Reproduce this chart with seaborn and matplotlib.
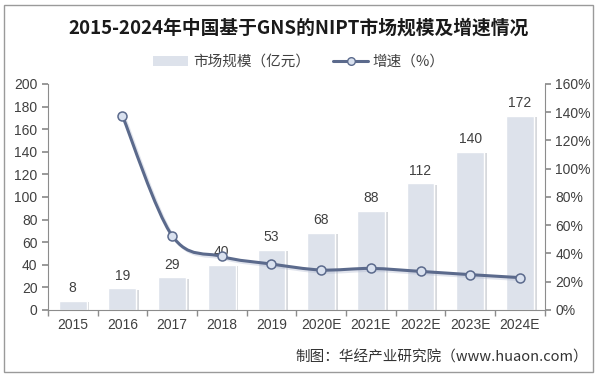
import numpy as np
import pandas as pd
import matplotlib
matplotlib.use("Agg")
import matplotlib.pyplot as plt
import matplotlib.patheffects as pe
from matplotlib.path import Path
from matplotlib.patches import PathPatch, Rectangle, Patch
from matplotlib.lines import Line2D
import seaborn as sns

sns.set_theme(style="white")
plt.rcParams["font.family"] = ["Liberation Sans", "Noto Sans CJK SC", "DejaVu Sans"]

# ── Data ───────────────────────────────────────────────────────────────────────
years = ["2015", "2016", "2017", "2018", "2019", "2020E", "2021E", "2022E", "2023E", "2024E"]
market = [8, 19, 29, 40, 53, 68, 88, 112, 140, 172]          # 亿元
growth = [np.nan, 137.5, 52.6, 37.9, 32.5, 28.3, 29.4, 27.3, 25.0, 22.9]  # %

BAR = "#dde2eb"
LINE = "#5b6a8c"
MARK = "#d9e1ef"
AXC = "#8c8c8c"
TXT = "#404040"
CJK = ["Noto Sans CJK SC", "DejaVu Sans"]

df = pd.DataFrame({"year": years, "market": market, "growth": growth})

fig = plt.figure(figsize=(5.98, 3.78), dpi=100)
ax = fig.add_axes([0.080, 0.180, 0.831, 0.598])

sns.barplot(data=df, x="year", y="market", color=BAR, width=0.56,
            saturation=1, ax=ax, zorder=2)
for p in ax.patches:
    p.set_path_effects([pe.SimplePatchShadow(offset=(2, -1), shadow_rgbFace="#b0b4bc", alpha=0.5), pe.Normal()])
for i, v in enumerate(market):
    ax.text(i, v + 5, str(v), ha="center", va="bottom", fontsize=10, color=TXT)

ax.set_xlim(-0.5, len(years) - 0.5)
ax.set_ylim(0, 200)
ax.set_yticks(range(0, 201, 20))
ax.set_xlabel("")
ax.set_ylabel("")
ax.tick_params(axis="y", labelsize=10, colors=TXT, length=4, color=AXC, direction="out", left=True)
ax.tick_params(axis="x", labelsize=10, colors=TXT, length=0, pad=6)
ax.set_xticks(np.arange(-0.5, len(years)), minor=True)
ax.tick_params(axis="x", which="minor", length=4, color=AXC, direction="out", bottom=True)
for s in ["top", "right"]:
    ax.spines[s].set_visible(False)
for s in ["left", "bottom"]:
    ax.spines[s].set_color(AXC)
    ax.spines[s].set_linewidth(0.8)

# growth line on the secondary axis
ax2 = ax.twinx()
ax2.set_ylim(0, 160)
ax2.set_yticks(range(0, 161, 20))
ax2.set_yticklabels([f"{t}%" for t in range(0, 161, 20)])
ax2.tick_params(axis="y", labelsize=10, colors=TXT, length=4, color=AXC, direction="out", right=True)
for s in ["top", "left", "bottom"]:
    ax2.spines[s].set_visible(False)
ax2.spines["right"].set_color(AXC)
ax2.spines["right"].set_linewidth(0.8)

# smoothed (Catmull-Rom) curve like Excel's smoothed line
gx = np.array([i for i, g in enumerate(growth) if not np.isnan(g)], dtype=float)
gy = np.array([g for g in growth if not np.isnan(g)])
pts = np.column_stack([gx, gy])
verts, codes = [pts[0]], [Path.MOVETO]
for k in range(len(pts) - 1):
    p0 = pts[k - 1] if k > 0 else pts[k]
    p1, p2 = pts[k], pts[k + 1]
    p3 = pts[k + 2] if k + 2 < len(pts) else pts[k + 1]
    verts += [p1 + (p2 - p0) / 6, p2 - (p3 - p1) / 6, p2]
    codes += [Path.CURVE4] * 3
curve = PathPatch(Path(verts, codes), fill=False, edgecolor=LINE, lw=2.2, zorder=3,
                  path_effects=[pe.SimpleLineShadow(offset=(1.5, -1.5), shadow_color="#aab4cc", alpha=0.35), pe.Normal()])
ax2.add_patch(curve)
sns.scatterplot(x=gx, y=gy, ax=ax2, s=42, color=MARK, edgecolor=LINE, linewidth=1.1, zorder=4, legend=False)

# title, legend, source
fig.text(0.5, 0.925, "2015-2024年中国基于GNS的NIPT市场规模及增速情况", ha="center", va="center",
         fontsize=13.5, fontweight="bold", color="#1a1a1a", family=CJK)
handles = [Patch(facecolor=BAR, edgecolor="none"),
           Line2D([0], [0], color=LINE, lw=2.2, marker="o", markersize=5.5,
                  markerfacecolor=MARK, markeredgecolor=LINE)]
leg = fig.legend(handles, ["市场规模（亿元）", "增速（%）"], loc="center", bbox_to_anchor=(0.5, 0.836),
                 ncol=2, frameon=False, handlelength=2.4, handletextpad=0.3, columnspacing=1.6,
                 prop={"family": CJK, "size": 10.5})
for t in leg.get_texts():
    t.set_color(TXT)
fig.text(0.983, 0.055, "制图：华经产业研究院（www.huaon.com）", ha="right", va="center",
         fontsize=10.5, color="#333333", family=CJK)

fig.patches.append(Rectangle((0.006, 0.016), 0.985, 0.972, transform=fig.transFigure,
                             fill=False, edgecolor="#9a9a9a", lw=1.0))

fig.savefig("out.png", dpi=100)
plt.close(fig)
